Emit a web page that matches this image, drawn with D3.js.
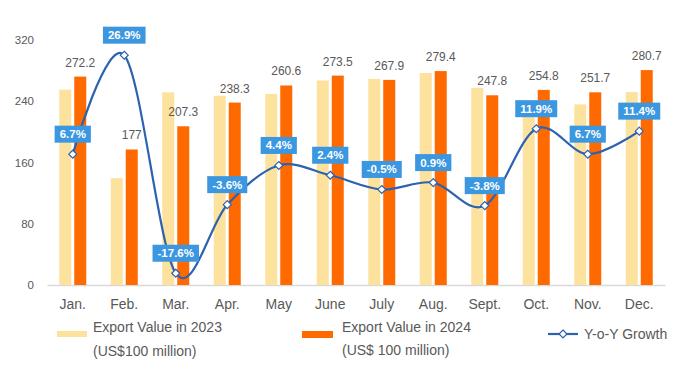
<!DOCTYPE html>
<html>
<head>
<meta charset="utf-8">
<script src="https://cdn.jsdelivr.net/npm/d3@7"></script>
<style>
  body { margin: 0; background: #fff; }
  text { font-family: "Liberation Sans", Arial, sans-serif; }
</style>
</head>
<body>
<div id="chart"></div>
<script>
// chart values
const months = ["Jan.", "Feb.", "Mar.", "Apr.", "May", "June", "July", "Aug.", "Sept.", "Oct.", "Nov.", "Dec."];
const export2023 = [255.1, 139.5, 251.6, 247.2, 249.6, 267.1, 269.2, 276.9, 257.6, 227.7, 235.9, 252.0];
const export2024 = [272.2, 177, 207.3, 238.3, 260.6, 273.5, 267.9, 279.4, 247.8, 254.8, 251.7, 280.7];
const growth = [6.7, 26.9, -17.6, -3.6, 4.4, 2.4, -0.5, 0.9, -3.8, 11.9, 6.7, 11.4];
const yTicks = [0, 80, 160, 240, 320];

const W = 692, H = 367;
const plotLeft = 47, plotRight = 665, plotTop = 40, plotBottom = 285;

const svg = d3.select("#chart").append("svg")
  .attr("width", W).attr("height", H);

const x = d3.scaleBand().domain(months).range([plotLeft, plotRight]);
const y = d3.scaleLinear().domain([0, 320]).range([plotBottom, plotTop]);
// hidden secondary axis for growth
const y2 = d3.scaleLinear().domain([-20, 30]).range([plotBottom, plotTop]);

const barW = 12, gap = 3;

// y axis labels
svg.append("g")
  .attr("transform", `translate(${plotLeft - 13},0)`)
  .call(d3.axisLeft(y).tickValues(yTicks).tickSize(0).tickPadding(0))
  .call(g => g.select(".domain").remove())
  .selectAll("text")
  .attr("font-size", 11.5)
  .attr("fill", "#595959")
  .style("font-family", '"Liberation Sans", Arial, sans-serif');

// x axis
svg.append("g")
  .attr("transform", `translate(0,${plotBottom})`)
  .call(d3.axisBottom(x).tickSize(0).tickPadding(14))
  .call(g => g.select(".domain").attr("stroke", "#d9d9d9").attr("stroke-width", 1.5))
  .selectAll("text")
  .attr("font-size", 14)
  .attr("fill", "#595959")
  .style("font-family", '"Liberation Sans", Arial, sans-serif');

const cx = m => x(m) + x.bandwidth() / 2;

// bars 2023
svg.append("g").selectAll("rect")
  .data(months)
  .enter().append("rect")
  .attr("x", (m) => cx(m) - barW - gap / 2)
  .attr("y", (m, i) => y(export2023[i]))
  .attr("width", barW)
  .attr("height", (m, i) => plotBottom - y(export2023[i]))
  .attr("fill", "#FDE29E");

// bars 2024
svg.append("g").selectAll("rect")
  .data(months)
  .enter().append("rect")
  .attr("x", (m) => cx(m) + gap / 2)
  .attr("y", (m, i) => y(export2024[i]))
  .attr("width", barW)
  .attr("height", (m, i) => plotBottom - y(export2024[i]))
  .attr("fill", "#FF6A00");

// 2024 value labels
svg.append("g").selectAll("text")
  .data(months)
  .enter().append("text")
  .attr("x", (m) => cx(m) + gap / 2 + barW / 2)
  .attr("y", (m, i) => y(export2024[i]) - 10)
  .attr("text-anchor", "middle")
  .attr("font-size", 12)
  .attr("fill", "#595959")
  .text((m, i) => export2024[i]);

// growth line
const line = d3.line()
  .x((d, i) => cx(months[i]))
  .y(d => y2(d))
  .curve(d3.curveCatmullRom.alpha(0));

svg.append("path")
  .datum(growth)
  .attr("d", line)
  .attr("fill", "none")
  .attr("stroke", "#2C62B0")
  .attr("stroke-width", 2.2);

const diamond = d3.symbol().type(d3.symbolDiamond2).size(40);

svg.append("g").selectAll("path")
  .data(growth)
  .enter().append("path")
  .attr("d", diamond)
  .attr("transform", (d, i) => `translate(${cx(months[i])},${y2(d)})`)
  .attr("fill", "#fff")
  .attr("stroke", "#2C62B0")
  .attr("stroke-width", 1.2);

// growth labels in blue boxes
const lab = svg.append("g").selectAll("g")
  .data(growth)
  .enter().append("g")
  .attr("transform", (d, i) => `translate(${cx(months[i])},${y2(d) - 20})`);

lab.append("text")
  .attr("text-anchor", "middle")
  .attr("dy", "0.35em")
  .attr("font-size", 11.5)
  .attr("font-weight", "bold")
  .attr("fill", "#fff")
  .text(d => d.toFixed(1) + "%");

lab.each(function () {
  const g = d3.select(this);
  const bb = g.select("text").node().getBBox();
  g.insert("rect", "text")
    .attr("x", bb.x - 5)
    .attr("y", -8.5)
    .attr("width", bb.width + 10)
    .attr("height", 17)
    .attr("fill", "#3A97E0");
});

// legend
const legend = svg.append("g").attr("font-size", 14).attr("fill", "#595959");

legend.append("rect").attr("x", 57).attr("y", 331).attr("width", 30).attr("height", 6).attr("fill", "#FDE29E");
legend.append("text").attr("x", 93).attr("y", 327).attr("dy", "0.35em").attr("fill", "#595959").text("Export Value in 2023");
legend.append("text").attr("x", 93).attr("y", 351).attr("dy", "0.35em").attr("fill", "#595959").text("(US$100 million)");

legend.append("rect").attr("x", 302).attr("y", 331).attr("width", 31).attr("height", 7).attr("fill", "#FF6A00");
legend.append("text").attr("x", 342).attr("y", 327).attr("dy", "0.35em").attr("fill", "#595959").text("Export Value in 2024");
legend.append("text").attr("x", 342).attr("y", 350).attr("dy", "0.35em").attr("fill", "#595959").text("(US$ 100 million)");

legend.append("line").attr("x1", 548).attr("x2", 578).attr("y1", 334).attr("y2", 334)
  .attr("stroke", "#2C62B0").attr("stroke-width", 2.2);
legend.append("path").attr("d", diamond).attr("transform", "translate(563,334)")
  .attr("fill", "#fff").attr("stroke", "#2C62B0").attr("stroke-width", 1.2);
legend.append("text").attr("x", 584).attr("y", 334).attr("dy", "0.35em").attr("fill", "#595959").text("Y-o-Y Growth");
</script>
</body>
</html>
